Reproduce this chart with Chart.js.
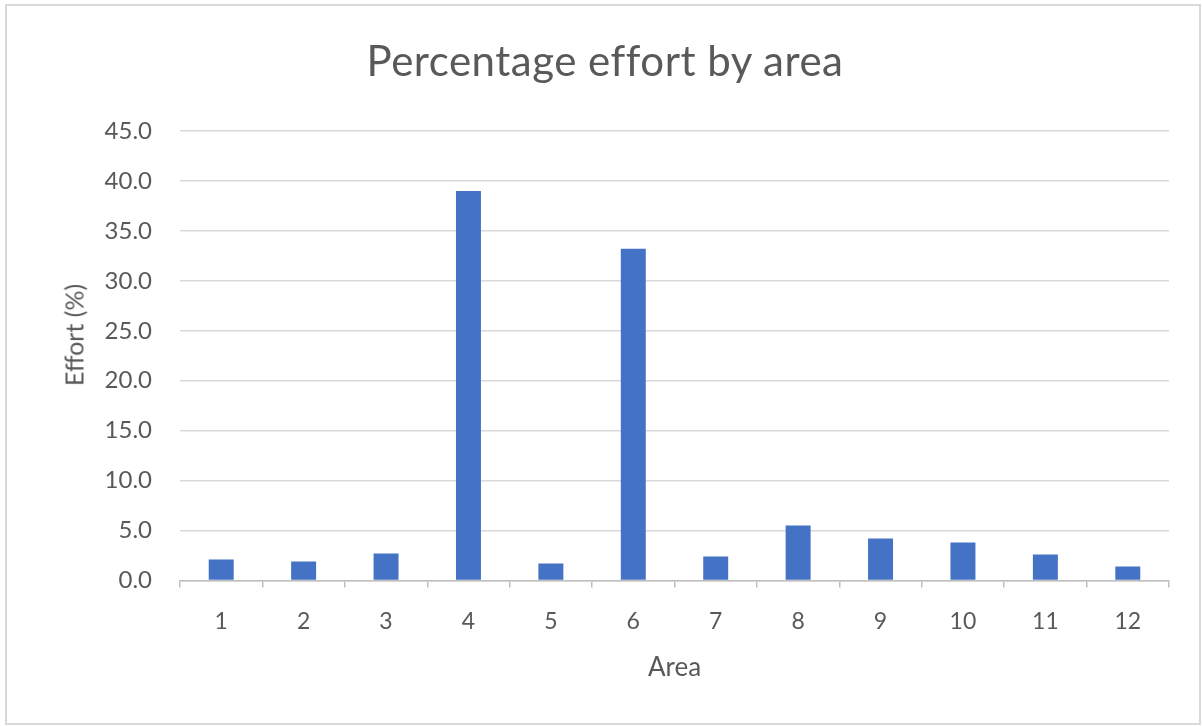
<!DOCTYPE html>
<html>
<head>
<meta charset="utf-8">
<script src="https://cdn.jsdelivr.net/npm/chart.js@4.4.1/dist/chart.umd.min.js"></script>
<style>
  html, body { margin: 0; padding: 0; background: #ffffff; }
  #wrap { position: relative; width: 1202px; height: 726px; }
  canvas { display: block; }
  .label {
    position: absolute;
    color: #595959;
    font-family: Lato, "Open Sans", sans-serif;
    white-space: nowrap;
    margin: 0;
    font-weight: normal;
  }
  #title {
    left: 305px; width: 600px; top: 39px;
    font-size: 42px; line-height: 1; letter-spacing: 0.5px;
    text-align: center;
  }
  #ytitle {
    left: 74px; top: 335px;
    font-size: 25px; line-height: 1;
    transform: translate(-50%, -50%) rotate(-90deg);
  }
</style>
</head>
<body>
<div id="wrap">
  <canvas id="chart" width="1202" height="726"></canvas>
  <div id="title" class="label"></div>
  <div id="ytitle" class="label"></div>
</div>
<script>
// Share of effort per area (%)
const chartTitle = 'Percentage effort by area';
const xTitle = 'Area';
const yTitle = 'Effort (%)';
const areas = ['1', '2', '3', '4', '5', '6', '7', '8', '9', '10', '11', '12'];
const effort = [2.1, 1.9, 2.7, 39.0, 1.7, 33.2, 2.4, 5.5, 4.2, 3.8, 2.6, 1.4];
const yTicks = [0, 5, 10, 15, 20, 25, 30, 35, 40, 45];

document.getElementById('title').textContent = chartTitle;
document.getElementById('ytitle').textContent = yTitle;

const textColor = '#595959';
const fontFamily = 'Lato, "Open Sans", sans-serif';

// Thin outline around the whole chart
const frame = {
  id: 'frame',
  afterDraw(chart) {
    const ctx = chart.ctx;
    ctx.save();
    ctx.strokeStyle = '#d9d9d9';
    ctx.lineWidth = 2;
    ctx.strokeRect(6, 5, 1194, 719);
    ctx.restore();
  }
};

new Chart(document.getElementById('chart'), {
  type: 'bar',
  data: {
    labels: areas,
    datasets: [{
      label: yTitle,
      data: effort,
      backgroundColor: '#4472C4',
      borderWidth: 0,
      barPercentage: 0.303,
      categoryPercentage: 1.0
    }]
  },
  options: {
    responsive: false,
    animation: false,
    devicePixelRatio: 1,
    layout: { padding: { left: 0, right: 33, top: 131, bottom: 0 } },
    plugins: {
      legend: { display: false },
      tooltip: { enabled: false },
      title: { display: false }
    },
    scales: {
      x: {
        afterFit(scale) { scale.height = 145.5; },
        grid: {
          offset: true,
          drawOnChartArea: false,
          drawTicks: true,
          tickLength: 7,
          color: '#bfbfbf',
          lineWidth: 1.5
        },
        border: { display: true, color: '#bfbfbf', width: 1.5 },
        ticks: {
          color: textColor,
          font: { family: fontFamily, size: 23 },
          padding: 20,
          maxRotation: 0
        },
        title: {
          display: true,
          text: xTitle,
          color: textColor,
          font: { family: fontFamily, size: 26, lineHeight: 1.2 },
          padding: { top: 0, bottom: 43 }
        }
      },
      y: {
        min: 0,
        max: 45,
        afterFit(scale) { scale.width = 180; },
        afterBuildTicks(scale) { scale.ticks = yTicks.map(v => ({ value: v })); },
        grid: {
          drawTicks: false,
          color: '#d9d9d9',
          lineWidth: 1.5
        },
        border: { display: false },
        ticks: {
          color: textColor,
          font: { family: fontFamily, size: 24 },
          padding: 28,
          callback: v => Number(v).toFixed(1)
        },
        title: { display: false }
      }
    }
  },
  plugins: [frame]
});
</script>
</body>
</html>
